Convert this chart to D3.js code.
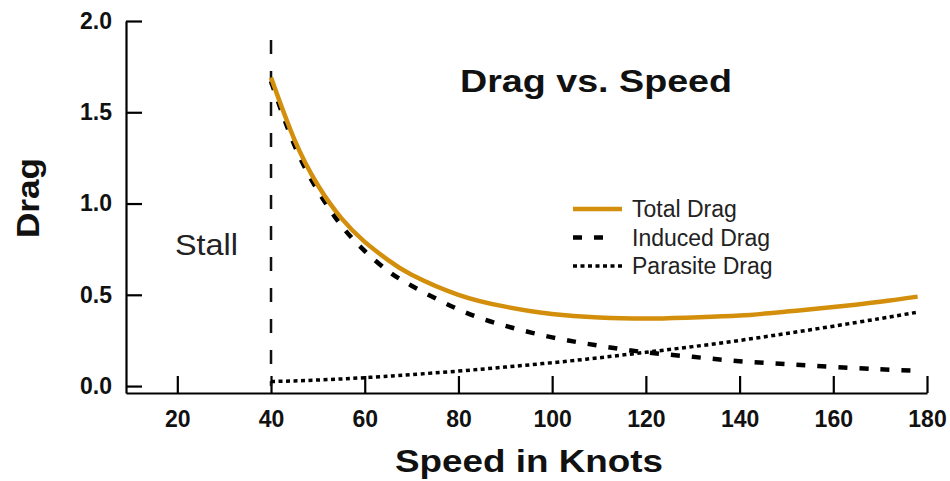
<!DOCTYPE html>
<html>
<head>
<meta charset="utf-8">
<script src="https://cdnjs.cloudflare.com/ajax/libs/d3/7.8.5/d3.min.js"></script>
<style>
    body { margin: 0; background: #fff; }
    svg { display: block; font-family: "Liberation Sans", Arial, sans-serif; }
</style>
</head>
<body>
<div id="chart"></div>
<script>
'use strict';
// values
var speeds = [40, 45, 50, 55, 60, 65, 70, 80, 90, 100, 110, 120, 130, 140, 150, 160, 170, 178];
var totalDrag = [1.69, 1.35, 1.10, 0.92, 0.79, 0.69, 0.61, 0.50, 0.435, 0.395, 0.376, 0.37, 0.376, 0.386, 0.408, 0.433, 0.462, 0.49];
var inducedDrag = [1.67, 1.32, 1.07, 0.88, 0.74, 0.63, 0.55, 0.42, 0.33, 0.267, 0.221, 0.185, 0.16, 0.136, 0.12, 0.105, 0.092, 0.084];
var parasiteDrag = [0.025, 0.028, 0.033, 0.039, 0.046, 0.054, 0.063, 0.082, 0.104, 0.128, 0.155, 0.185, 0.216, 0.25, 0.288, 0.328, 0.37, 0.405];
var xTicks = [20, 40, 60, 80, 100, 120, 140, 160, 180];
var yTicks = [0, 0.5, 1.0, 1.5, 2.0];
var stallSpeed = 40;
var seriesNames = ["Total Drag", "Induced Drag", "Parasite Drag"];

var width = 950;
var height = 481;
var orange = "#d38f0c";

var svg = d3.select("#chart").append("svg")
            .attr("width", width)
            .attr("height", height);

var x = d3.scaleLinear()
          .domain([9.05, 180])
          .range([126, 927]);

var y = d3.scaleLinear()
          .domain([-0.038, 2])
          .range([393, 21]);

// x axis, ticks point up into the plot
var xAxis = svg.append("g")
    .attr("transform", "translate(0," + y.range()[0] + ")")
    .call(d3.axisBottom(x).tickValues(xTicks).tickSize(-17).tickSizeOuter(0).tickPadding(18));
xAxis.select(".domain").attr("stroke-width", 2.2);
xAxis.selectAll(".tick line").attr("stroke-width", 2.2);
xAxis.selectAll("text")
    .style("font-size", "23px")
    .style("font-weight", "bold")
    .attr("fill", "#111");

// y axis, ticks point right
var yAxis = svg.append("g")
    .attr("transform", "translate(" + x.range()[0] + ",0)")
    .call(d3.axisLeft(y).tickValues(yTicks).tickFormat(d3.format(".1f")).tickSize(-16).tickSizeOuter(0).tickPadding(14));
yAxis.select(".domain").attr("stroke-width", 2.2);
yAxis.selectAll(".tick line").attr("stroke-width", 2.2);
yAxis.selectAll("text")
    .style("font-size", "23px")
    .style("font-weight", "bold")
    .attr("fill", "#111");

// stall marker
svg.append("line")
    .attr("x1", x(stallSpeed)).attr("x2", x(stallSpeed))
    .attr("y1", 40).attr("y2", y(0))
    .attr("stroke", "#111")
    .attr("stroke-width", 2.5)
    .attr("stroke-dasharray", "14,17");

var line = function (vals) {
    return d3.line()
        .x(function (d, i) { return x(speeds[i]); })
        .y(function (d) { return y(d); })
        .curve(d3.curveNatural)(vals);
};

var styles = [
    { data: totalDrag, color: orange, w: 4.5, dash: null },
    { data: inducedDrag, color: "#000", w: 4.5, dash: "9,12" },
    { data: parasiteDrag, color: "#000", w: 3.5, dash: "4,3.5" }
];

// draw parasite and induced under the total curve
[2, 1, 0].forEach(function (k) {
    var s = styles[k];
    svg.append("path")
        .attr("d", line(s.data))
        .attr("fill", "none")
        .attr("stroke", s.color)
        .attr("stroke-width", s.w)
        .attr("stroke-dasharray", s.dash);
});

// legend
var legend = svg.append("g").attr("transform", "translate(573,0)");
seriesNames.forEach(function (name, i) {
    var s = styles[i];
    var ly = 209 + i * 28.5;
    legend.append("line")
        .attr("x1", 0).attr("x2", i == 1 ? 32 : 49)
        .attr("y1", ly).attr("y2", ly)
        .attr("stroke", s.color)
        .attr("stroke-width", s.w)
        .attr("stroke-dasharray", s.dash);
    legend.append("text")
        .attr("x", 59)
        .attr("y", ly + 8)
        .style("font-size", "23px")
        .attr("fill", "#222")
        .text(name);
});

// titles
svg.append("text")
    .attr("x", 460).attr("y", 92)
    .attr("textLength", 272).attr("lengthAdjust", "spacingAndGlyphs")
    .style("font-size", "32px").style("font-weight", "bold")
    .attr("fill", "#111")
    .text("Drag vs. Speed");

svg.append("text")
    .attr("x", 395).attr("y", 472)
    .attr("textLength", 268).attr("lengthAdjust", "spacingAndGlyphs")
    .style("font-size", "32px").style("font-weight", "bold")
    .attr("fill", "#111")
    .text("Speed in Knots");

svg.append("text")
    .attr("transform", "translate(39,198) rotate(-90)")
    .attr("x", -40).attr("y", 0)
    .attr("textLength", 80).attr("lengthAdjust", "spacingAndGlyphs")
    .style("font-size", "31px").style("font-weight", "bold")
    .attr("fill", "#111")
    .text("Drag");

svg.append("text")
    .attr("x", 175).attr("y", 255)
    .attr("textLength", 63).attr("lengthAdjust", "spacingAndGlyphs")
    .style("font-size", "30px")
    .attr("fill", "#222")
    .text("Stall");
</script>
</body>
</html>
